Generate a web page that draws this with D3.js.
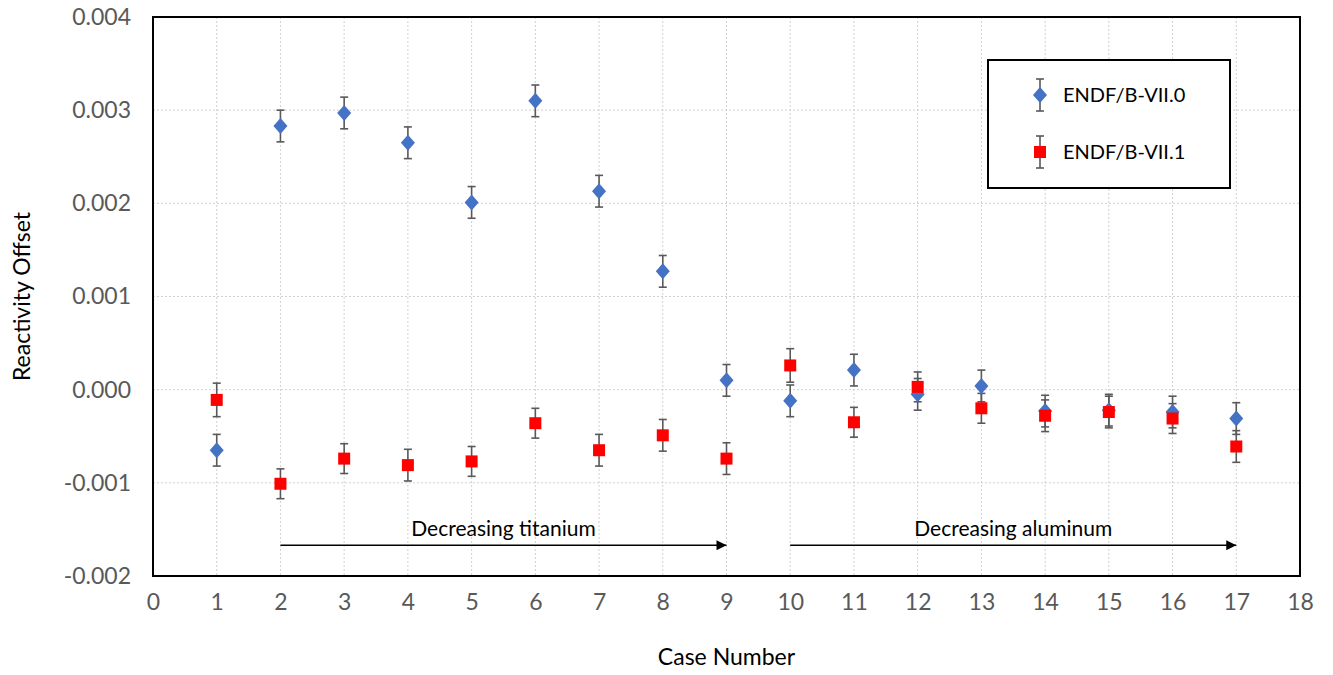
<!DOCTYPE html>
<html><head><meta charset="utf-8">
<script src="https://cdn.jsdelivr.net/npm/d3@7"></script>
<style>body{margin:0;background:#fff;} text{font-family:Lato,"Open Sans",sans-serif;}</style>
</head><body><svg id="c" width="1333" height="675"></svg>
<script>
const cases = [1,2,3,4,5,6,7,8,9,10,11,12,13,14,15,16,17];
const vii0 = [-0.00065,0.00283,0.00297,0.00265,0.00201,0.00310,0.00213,0.00127,0.00010,-0.00012,0.00021,-0.00005,0.00004,-0.00023,-0.00022,-0.00024,-0.00031];
const vii0Err = [0.00017,0.00017,0.00017,0.00017,0.00017,0.00017,0.00017,0.00017,0.00017,0.00017,0.00017,0.00017,0.00017,0.00017,0.00017,0.00017,0.00017];
const vii1 = [-0.00011,-0.00101,-0.00074,-0.00081,-0.00077,-0.00036,-0.00065,-0.00049,-0.00074,0.00026,-0.00035,0.00003,-0.00020,-0.00028,-0.00024,-0.00031,-0.00061];
const vii1Err = [0.00018,0.00016,0.00016,0.00017,0.00016,0.00016,0.00017,0.00017,0.00017,0.00018,0.00016,0.00016,0.00016,0.00017,0.00017,0.00016,0.00017];
const xTicks = d3.range(0,19);
const yTicks = [-0.002,-0.001,0,0.001,0.002,0.003,0.004];
const arrows = [{from:2,to:9,label:"Decreasing titanium"},{from:10,to:17,label:"Decreasing aluminum"}];
const arrowY = -0.00167;

const svg = d3.select("#c");
const L=153,R=1300,T=17,B=576;
const x = d3.scaleLinear().domain([0,18]).range([L,R]);
const y = d3.scaleLinear().domain([-0.002,0.004]).range([B,T]);
const g = svg.append("g");

// grid
g.selectAll(".vg").data(xTicks.slice(1,-1)).enter().append("line")
 .attr("x1",d=>x(d)).attr("x2",d=>x(d)).attr("y1",T).attr("y2",B)
 .attr("stroke","#d0d0d0").attr("stroke-width",1).attr("stroke-dasharray","2,2");
g.selectAll(".hg").data(yTicks.slice(1,-1)).enter().append("line")
 .attr("x1",L).attr("x2",R).attr("y1",d=>y(d)).attr("y2",d=>y(d))
 .attr("stroke","#d0d0d0").attr("stroke-width",1).attr("stroke-dasharray","2,2");

// axes labels
const xa = svg.append("g").attr("transform",`translate(0,${B})`)
 .call(d3.axisBottom(x).tickValues(xTicks).tickSize(0).tickPadding(18).tickFormat(d3.format("d")));
xa.select(".domain").remove();
xa.selectAll("text").attr("font-size",23).attr("fill","#595959").style("font-family","Lato,sans-serif");
const ya = svg.append("g").attr("transform",`translate(${L},0)`)
 .call(d3.axisLeft(y).tickValues(yTicks).tickSize(0).tickPadding(22).tickFormat(d3.format(".3f")));
ya.select(".domain").remove();
ya.selectAll("text").attr("font-size",23).attr("fill","#595959").style("font-family","Lato,sans-serif")
 .text(d=>d3.format(".3f")(d).replace("−","-"));

// frame
svg.append("rect").attr("x",L).attr("y",T).attr("width",R-L).attr("height",B-T)
 .attr("fill","none").attr("stroke","#000").attr("stroke-width",2);

// titles
svg.append("text").attr("x",(L+R)/2).attr("y",665).attr("text-anchor","middle")
 .attr("font-size",23).attr("fill","#000").text("Case Number");
svg.append("text").attr("transform",`translate(30,${(T+B)/2}) rotate(-90)`).attr("text-anchor","middle")
 .attr("font-size",23).attr("fill","#000").text("Reactivity Offset");

// arrows
svg.append("defs").append("marker").attr("id","ah").attr("viewBox","0 0 10 10").attr("refX",10).attr("refY",5)
 .attr("markerWidth",12).attr("markerHeight",10).attr("markerUnits","userSpaceOnUse").attr("orient","auto")
 .append("path").attr("d","M0,0L10,5L0,10Z").attr("fill","#000");
arrows.forEach(a=>{
  svg.append("line").attr("x1",x(a.from)).attr("x2",x(a.to)).attr("y1",y(arrowY)).attr("y2",y(arrowY))
   .attr("stroke","#000").attr("stroke-width",1.3).attr("marker-end","url(#ah)");
  svg.append("text").attr("x",x((a.from+a.to)/2)).attr("y",y(arrowY)-9).attr("text-anchor","middle")
   .attr("font-size",21).attr("fill","#000").text(a.label);
});

function errorBars(vals, errs){
  const eg = svg.append("g").attr("stroke","#595959").attr("stroke-width",1.6);
  cases.forEach((c,i)=>{
    const cx=x(c), y1=y(vals[i]+errs[i]), y2=y(vals[i]-errs[i]);
    eg.append("line").attr("x1",cx).attr("x2",cx).attr("y1",y1).attr("y2",y2);
    eg.append("line").attr("x1",cx-4).attr("x2",cx+4).attr("y1",y1).attr("y2",y1);
    eg.append("line").attr("x1",cx-4).attr("x2",cx+4).attr("y1",y2).attr("y2",y2);
  });
}
errorBars(vii0, vii0Err);
errorBars(vii1, vii1Err);

const diamond = "M0,-8L7,0L0,8L-7,0Z";
svg.append("g").selectAll("path").data(cases).enter().append("path")
 .attr("d",diamond).attr("transform",(d,i)=>`translate(${x(d)},${y(vii0[i])})`).attr("fill","#4472C4");
svg.append("g").selectAll("rect").data(cases).enter().append("rect")
 .attr("x",(d)=>x(d)-6).attr("y",(d,i)=>y(vii1[i])-6).attr("width",12).attr("height",12).attr("fill","#FF0000");

// legend
const lg = svg.append("g");
lg.append("rect").attr("x",988).attr("y",60).attr("width",242).attr("height",128).attr("fill","#fff").attr("stroke","#000").attr("stroke-width",2);
const leg = [{label:"ENDF/B-VII.0",cy:95,type:"d"},{label:"ENDF/B-VII.1",cy:152,type:"s"}];
leg.forEach(l=>{
  const cx=1040;
  const e=lg.append("g").attr("stroke","#595959").attr("stroke-width",1.6);
  e.append("line").attr("x1",cx).attr("x2",cx).attr("y1",l.cy-16).attr("y2",l.cy+16);
  e.append("line").attr("x1",cx-4).attr("x2",cx+4).attr("y1",l.cy-16).attr("y2",l.cy-16);
  e.append("line").attr("x1",cx-4).attr("x2",cx+4).attr("y1",l.cy+16).attr("y2",l.cy+16);
  if(l.type==="d") lg.append("path").attr("d",diamond).attr("transform",`translate(${cx},${l.cy})`).attr("fill","#4472C4");
  else lg.append("rect").attr("x",cx-6).attr("y",l.cy-6).attr("width",12).attr("height",12).attr("fill","#FF0000");
  lg.append("text").attr("x",1063).attr("y",l.cy+7).attr("font-size",20).attr("fill","#000").text(l.label);
});
</script></body></html>
